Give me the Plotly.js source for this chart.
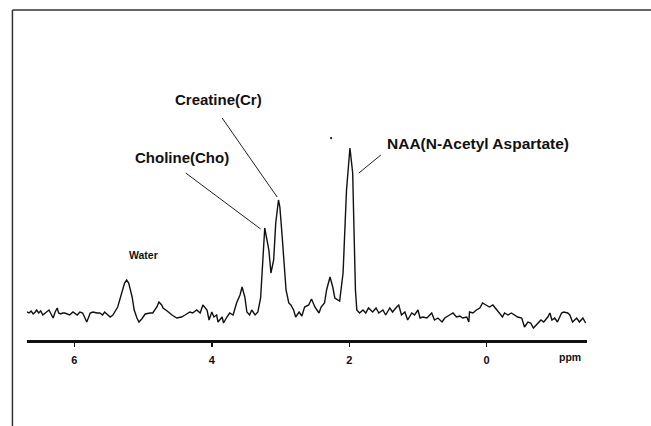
<!DOCTYPE html>
<html>
<head>
<meta charset="utf-8">
<script src="https://cdn.plot.ly/plotly-3.0.1.min.js"></script>
<style>
html,body{margin:0;padding:0;background:#fff;}
#chart{width:651px;height:426px;}
</style>
</head>
<body>
<div id="chart"></div>
<script>
// Chemical shift (ppm) and signal intensity (arbitrary units)
const ppm = [6.69,6.66,6.63,6.60,6.57,6.55,6.52,6.49,6.46,6.43,6.40,6.37,6.34,6.31,6.28,6.25,6.23,6.20,6.17,6.14,
  6.07,6.02,5.96,5.92,5.88,5.82,5.77,5.73,5.67,5.63,5.59,5.56,5.48,5.44,5.37,5.31,5.27,5.24,5.21,5.16,
  5.13,5.09,5.06,5.02,4.97,4.90,4.86,4.80,4.77,4.73,4.71,4.65,4.58,4.51,4.44,4.39,4.32,4.28,4.22,4.17,
  4.13,4.07,4.04,4.00,3.97,3.93,3.91,3.85,3.83,3.78,3.74,3.69,3.64,3.59,3.56,3.52,3.49,3.45,3.42,3.37,
  3.33,3.29,3.26,3.23,3.17,3.14,3.10,3.07,3.03,3.01,2.98,2.95,2.92,2.88,2.85,2.81,2.78,2.73,2.69,2.65,
  2.59,2.55,2.50,2.44,2.41,2.36,2.33,2.28,2.24,2.21,2.14,2.09,2.04,1.99,1.95,1.93,1.91,1.89,1.85,1.80,
  1.76,1.72,1.66,1.61,1.57,1.51,1.47,1.41,1.37,1.31,1.28,1.24,1.19,1.15,1.09,1.05,1.00,0.97,0.93,0.87,
  0.80,0.76,0.71,0.65,0.61,0.54,0.49,0.44,0.39,0.35,0.29,0.26,0.25,0.20,0.15,0.10,0.06,0.01,-0.04,-0.09,
  -0.15,-0.19,-0.23,-0.26,-0.31,-0.36,-0.41,-0.45,-0.51,-0.55,-0.60,-0.64,-0.68,-0.74,-0.79,-0.83,-0.89,-0.92,-0.95,-0.99,
  -1.03,-1.09,-1.12,-1.18,-1.21,-1.25,-1.31,-1.35,-1.40,-1.44];
const intensity = [2.8,2.7,2.9,2.6,2.8,3.0,2.7,2.9,2.5,2.7,2.9,3.0,2.6,2.2,2.8,3.2,2.7,2.6,2.7,2.7,
  2.5,2.8,2.5,2.8,2.7,1.8,2.7,2.8,2.7,2.7,2.5,2.8,2.3,2.5,3.3,4.7,5.7,6.0,5.7,4.3,
  3.0,2.2,1.8,2.1,2.6,2.7,2.7,3.3,3.8,3.5,3.2,2.9,2.5,2.2,2.3,2.5,2.8,2.7,3.0,2.7,
  3.5,3.0,2.0,2.8,2.3,2.5,1.8,2.3,1.7,2.3,2.7,2.5,3.7,4.5,5.3,4.3,2.8,2.5,3.0,2.5,
  2.8,4.2,7.5,11.2,9.0,6.7,8.0,11.7,14.0,13.3,10.7,7.3,5.0,3.7,3.5,3.0,2.3,2.8,2.4,3.3,
  3.5,4.1,3.3,2.7,3.3,3.7,5.0,6.3,5.3,4.2,3.9,6.7,15.0,19.2,16.7,10.7,5.0,3.0,2.7,3.0,
  2.7,3.2,2.8,3.2,2.7,3.0,2.5,3.2,2.8,3.3,3.5,2.5,2.8,2.0,2.7,2.5,3.0,2.2,2.3,2.2,
  2.7,2.0,2.2,1.8,2.2,2.5,2.7,2.3,2.4,2.2,2.3,1.8,2.8,2.7,3.0,3.2,3.7,3.5,3.3,3.5,
  3.0,2.7,2.3,2.7,2.5,2.7,2.5,2.3,2.2,1.3,1.8,1.7,1.2,1.7,2.0,1.8,2.3,2.7,2.0,2.2,
  1.8,2.7,2.8,2.7,2.5,1.8,2.2,1.8,2.2,1.7];
const tickValues = [6, 4, 2, 0];
const tickLabels = ["6", "4", "2", "0"];
const peakLabels = ["Creatine(Cr)", "Choline(Cho)", "NAA(N-Acetyl Aspartate)", "Water"];

const FONT = "'Liberation Sans', Arial, Helvetica, sans-serif";

const trace = {
  x: ppm, y: intensity, type: 'scatter', mode: 'lines',
  line: {color: '#111', width: 1.4, shape: 'linear'},
  hoverinfo: 'skip', showlegend: false
};

const layout = {
  width: 651, height: 426,
  margin: {l: 27, r: 64, t: 40, b: 86, pad: 0},
  paper_bgcolor: '#fff', plot_bgcolor: '#fff',
  showlegend: false,
  xaxis: {
    range: [6.69, -1.46], showgrid: false, zeroline: false,
    showline: true, linecolor: '#111', linewidth: 2.5,
    ticks: 'outside', ticklen: 4, tickwidth: 1.5, tickcolor: '#111',
    tickvals: tickValues, ticktext: tickLabels,
    ticklabelstandoff: 4,
    tickfont: {family: FONT, size: 11, color: '#111', weight: 'bold'},
    fixedrange: true
  },
  yaxis: {range: [0, 30], visible: false, fixedrange: true},
  annotations: [
    {xref: 'x', yref: 'y', x: 3.91, y: 24.1, text: '<b>' + peakLabels[0] + '</b>', showarrow: false,
     xanchor: 'center', yanchor: 'middle', font: {family: FONT, size: 15, color: '#111'}},
    {xref: 'x', yref: 'y', x: 4.44, y: 18.3, text: '<b>' + peakLabels[1] + '</b>', showarrow: false,
     xanchor: 'center', yanchor: 'middle', font: {family: FONT, size: 15, color: '#111'}},
    {xref: 'x', yref: 'y', x: 0.12, y: 19.7, text: '<b>' + peakLabels[2] + '</b>', showarrow: false,
     xanchor: 'center', yanchor: 'middle', font: {family: FONT, size: 15.5, color: '#111'}},
    {xref: 'x', yref: 'y', x: 5.0, y: 8.5, text: '<b>' + peakLabels[3] + '</b>', showarrow: false,
     xanchor: 'center', yanchor: 'middle', font: {family: FONT, size: 10.5, color: '#111'}},
    {xref: 'paper', yref: 'paper', x: 0.97, y: -0.057, text: '<b>ppm</b>', showarrow: false,
     xanchor: 'center', yanchor: 'middle', font: {family: FONT, size: 10.5, color: '#111'}}
  ],
  shapes: [
    // leader lines
    {type: 'line', xref: 'x', yref: 'y', x0: 3.85, y0: 22.2, x1: 3.05, y1: 14.3, line: {color: '#222', width: 1}},
    {type: 'line', xref: 'x', yref: 'y', x0: 4.38, y0: 16.7, x1: 3.29, y1: 11.1, line: {color: '#222', width: 1}},
    {type: 'line', xref: 'x', yref: 'y', x0: 1.54, y0: 18.5, x1: 1.86, y1: 16.7, line: {color: '#222', width: 1}},
    // stray dot in the scan
    {type: 'circle', xref: 'paper', yref: 'paper', x0: 0.541, x1: 0.545, y0: 0.669, y1: 0.677,
     fillcolor: '#222', line: {width: 0}},
    // frame (top and left)
    {type: 'line', xref: 'paper', yref: 'paper', x0: -0.026, y0: 1.1, x1: 1.12, y1: 1.1, line: {color: '#333', width: 1.5}},
    {type: 'line', xref: 'paper', yref: 'paper', x0: -0.026, y0: 1.1, x1: -0.026, y1: -0.3, line: {color: '#333', width: 1.5}}
  ]
};

Plotly.newPlot('chart', [trace], layout, {staticPlot: true, displayModeBar: false});
</script>
</body>
</html>
